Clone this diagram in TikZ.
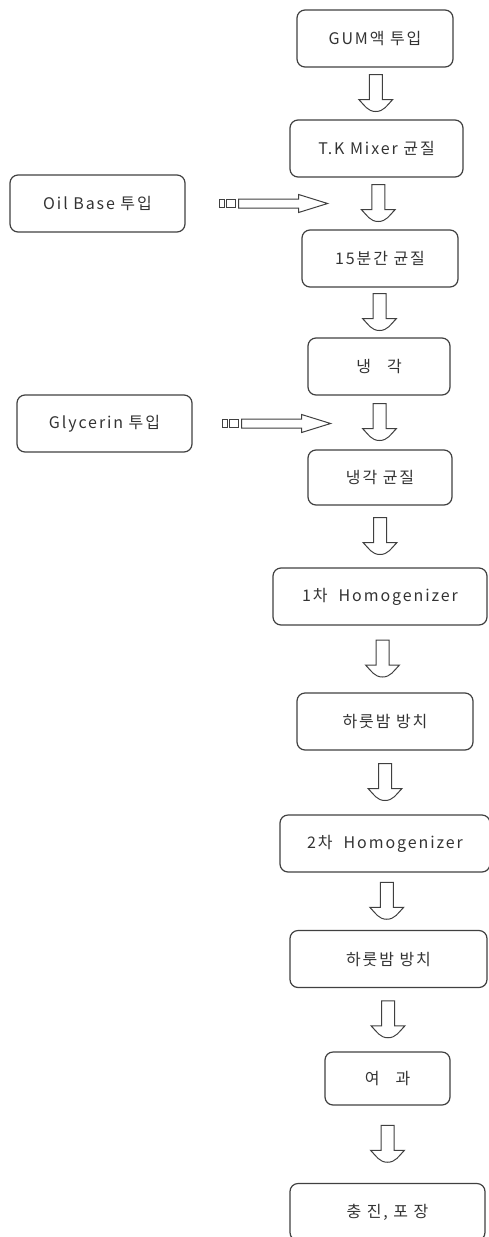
\documentclass[tikz,border=0pt]{standalone}
\usepackage{fontspec}
\setmainfont{Noto Sans CJK KR}[LetterSpace=12]
\usetikzlibrary{calc}
\begin{document}
\begin{tikzpicture}[x=1pt,y=1pt,
	procbox/.style={draw=black!75, line width=1.2pt, rounded corners=8pt,
		minimum height=57pt, inner sep=0pt, text=black!80,
		font=\fontsize{16}{18}\selectfont},
	blockdown/.pic={
		\draw[black!75, line width=1pt, fill=white]
		(-6.5,19) -- (6.5,19) -- (6.5,-6) -- (17,-6)
		to[out=225,in=0] (0,-18) to[out=180,in=-45] (-17,-6)
		-- (-6.5,-6) -- cycle;},
	sidearrow/.pic={
		\draw[black!75, line width=1pt] (0,-4) rectangle (5,4);
		\draw[black!75, line width=1pt] (7,-4) rectangle (16,4);
		\draw[black!75, line width=1pt, fill=white]
		(19,-4.5) -- (79,-4.5) -- (79,-9) -- (108,0) -- (79,9)
		-- (79,4.5) -- (19,4.5) -- cycle;}]
	\useasboundingbox (0,0) rectangle (488,-1237);
	
	% main line
	\node[procbox, minimum width=156pt] (gum) at (375,-38.5) {GUM액 투입};
	\node[procbox, minimum width=173pt] (mixer) at (376.5,-148.5) {T.K Mixer 균질};
	\node[procbox, minimum width=156pt] (mix15) at (380,-258.5) {15분간 균질};
	\node[procbox, minimum width=142pt] (cool) at (379,-366.5) {냉\quad 각};
	\node[procbox, minimum width=144pt, minimum height=55pt] (coolmix) at (380,-477.5) {냉각 균질};
	\node[procbox, minimum width=214pt] (homoA) at (380,-596.5) {1차\ \ Homogenizer};
	\node[procbox, minimum width=176pt] (restA) at (385,-721.5) {하룻밤 방치};
	\node[procbox, minimum width=210pt] (homoB) at (385,-843.5) {2차\ \ Homogenizer};
	\node[procbox, minimum width=197pt] (restB) at (388.5,-959) {하룻밤 방치};
	\node[procbox, minimum width=125pt, minimum height=53pt] (filter) at (387.5,-1078.5) {여\quad 과};
	\node[procbox, minimum width=195pt] (pack) at (387.5,-1212) {충 진, 포 장};
	
	% side inputs
	\node[procbox, minimum width=175pt] (oil) at (97.5,-203.5) {Oil Base 투입};
	\node[procbox, minimum width=175pt] (glyc) at (104.5,-423.5) {Glycerin 투입};
	
	\pic at ($(gum.south)!.5!(mixer.north)$) {blockdown};
	\pic at ($(mixer.south)!.5!(mix15.north)$) {blockdown};
	\pic at ($(mix15.south)!.5!(cool.north)$) {blockdown};
	\pic at ($(cool.south)!.5!(coolmix.north)$) {blockdown};
	\pic at ($(coolmix.south)!.5!(homoA.north)$) {blockdown};
	\pic at ($(homoA.south)!.5!(restA.north)$) {blockdown};
	\pic at ($(restA.south)!.5!(homoB.north)$) {blockdown};
	\pic at ($(homoB.south)!.5!(restB.north)$) {blockdown};
	\pic at ($(restB.south)!.5!(filter.north)$) {blockdown};
	\pic at ($(filter.south)!.5!(pack.north)$) {blockdown};
	
	\pic at ($(oil.east)+(34,0)$) {sidearrow};
	\pic at ($(glyc.east)+(30,0)$) {sidearrow};
\end{tikzpicture}
\end{document}
